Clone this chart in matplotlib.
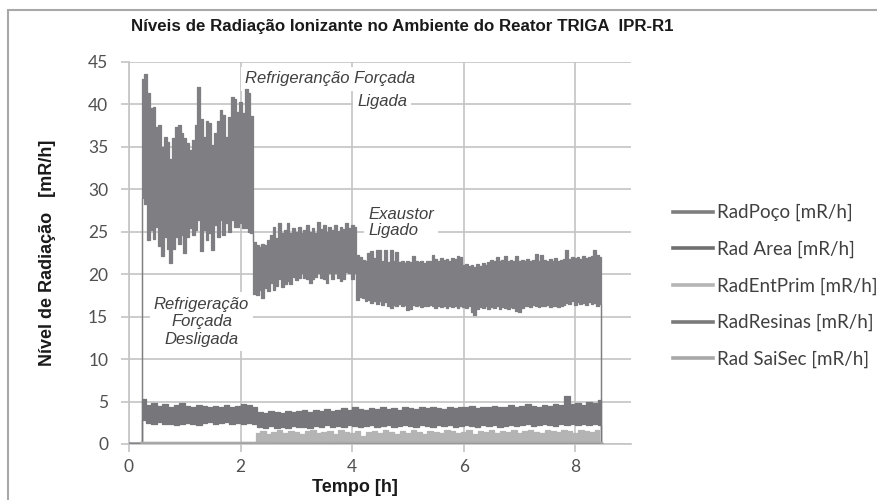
import matplotlib
matplotlib.use("Agg")
import matplotlib.pyplot as plt
import numpy as np
from matplotlib.lines import Line2D
from matplotlib.patches import Rectangle

plt.rcParams["font.family"] = ["Lato", "DejaVu Sans"]

# --- data (time in h, levels in mR/h) ---
series_names = ["RadPoço [mR/h]", "Rad Area [mR/h]", "RadEntPrim [mR/h]",
                "RadResinas [mR/h]", "Rad SaiSec [mR/h]"]
x_ticks = [0, 2, 4, 6, 8]
y_ticks = [0, 5, 10, 15, 20, 25, 30, 35, 40, 45]

# RadPoço: upper / lower envelope of the noisy trace, sampled every 0.05 h
poco_t = np.linspace(0.25, 8.45, 165)
poco_hi = [
    43.0, 43.6, 41.3, 39.6, 39.7, 37.4, 37.6, 35.0, 36.2, 35.6,
    33.6, 36.0, 37.4, 37.6, 36.6, 36.0, 35.4, 34.6, 35.8, 37.6,
    42.1, 38.3, 36.2, 38.0, 37.8, 35.2, 36.6, 38.0, 39.3, 38.8,
    36.2, 38.5, 40.9, 40.6, 39.1, 40.3, 39.0, 41.8, 41.3, 38.6,
    23.8, 23.5, 23.2, 23.6, 23.4, 24.0, 24.6, 25.6, 24.3, 26.0,
    24.8, 25.2, 26.0, 24.9, 25.4, 25.0, 25.6, 24.8, 25.2, 25.8,
    25.0, 25.4, 24.9, 26.2, 25.3, 25.8, 25.0, 25.6, 25.2, 25.8,
    25.1, 25.6, 25.3, 26.0, 25.4, 25.8, 25.6,
    22.3, 22.0, 21.7, 21.5, 22.5, 22.7, 21.9, 22.9,
    22.8, 21.5, 22.8, 21.4, 22.8, 21.5, 22.6, 21.4, 21.5, 21.3,
    21.6, 21.4, 22.1, 21.5, 21.4, 21.6, 21.3, 21.5, 21.6, 22.3,
    21.8, 21.6, 21.9, 21.7, 21.8, 21.6, 21.9, 21.8, 22.1, 22.0,
    21.1, 21.2, 21.0, 21.1, 20.9, 21.2, 21.0, 21.3, 21.1, 21.4,
    21.7, 21.6, 22.0, 21.6, 21.7, 22.2, 21.6, 21.7, 21.6, 22.1,
    21.6, 21.7, 21.5, 21.8, 21.6, 21.7, 22.4, 21.6, 22.3, 21.7,
    21.6, 21.8, 21.6, 21.9, 21.6, 21.7, 21.8, 22.9, 21.8, 22.0,
    21.9, 22.0, 21.8, 22.1, 21.9, 22.0, 22.1, 22.9, 22.3, 22.0,
]
poco_lo = [
    29.0, 28.3, 24.0, 25.2, 24.2, 25.6, 23.3, 22.1, 24.4, 23.0,
    21.3, 23.0, 24.4, 23.6, 24.6, 22.5, 24.4, 25.4, 24.6, 25.2,
    26.4, 22.7, 25.2, 24.0, 24.8, 22.9, 25.8, 24.4, 26.4, 24.6,
    26.0, 25.0, 26.4, 25.6, 25.6, 26.0, 25.4, 25.4, 25.0, 24.8,
    17.7, 17.6, 18.2, 17.2, 18.4, 18.0, 19.0, 18.2, 18.6, 19.4,
    18.5, 18.8, 19.2, 18.9, 19.7, 19.3, 19.5, 20.1, 19.6, 19.4,
    19.0, 19.4, 19.7, 20.1, 19.6, 19.4, 19.0, 20.1, 19.4, 20.1,
    19.6, 19.2, 19.4, 20.3, 20.1, 19.4, 20.1,
    17.0, 17.3, 17.2, 16.9, 17.0, 16.6, 16.9, 16.5,
    16.8, 16.4, 16.7, 16.3, 16.0, 16.4, 16.3, 16.5, 16.3, 16.4,
    15.8, 15.9, 16.4, 16.2, 16.4, 16.1, 16.3, 16.2, 16.4, 16.2,
    16.0, 16.3, 16.1, 16.2, 16.0, 16.2, 16.1, 16.3, 16.0, 16.2,
    16.1, 16.0, 16.2, 15.6, 15.2, 15.9, 16.1, 16.0, 16.2, 15.9,
    16.1, 16.0, 16.2, 15.9, 16.1, 16.0, 15.9, 16.1, 16.0, 15.7,
    15.6, 16.0, 16.2, 16.3, 16.1, 16.4, 16.2, 16.1, 16.3, 16.2,
    16.4, 16.1, 16.3, 16.2, 16.1, 16.3, 16.4, 16.6, 16.5, 16.8,
    16.4, 16.7, 16.5, 16.6, 16.4, 16.7, 16.5, 16.6, 16.3, 16.5,
]
# baseline before start-up and after shutdown
poco_pre_t, poco_pre_v = [0.0, 0.22], [0.1, 0.1]
poco_post_t, poco_post_v = [8.47, 8.48], [0.1, 0.1]

# Rad Area: envelope every 0.1 h
area_t = np.linspace(0.25, 8.45, 83)
area_hi = [
    5.3, 4.6, 4.8, 4.5, 4.7, 4.4, 4.6, 4.8, 4.5, 4.4,
    4.6, 4.5, 4.3, 4.5, 4.4, 4.6, 4.4, 4.5, 4.7, 4.6,
    4.4, 3.8, 3.7, 3.9, 3.8, 3.7, 3.9, 3.8, 3.9, 4.0,
    3.8, 4.0, 3.9, 4.1, 3.9, 4.0, 4.2, 4.0, 4.3, 4.1,
    4.0, 4.2, 4.1, 4.3, 4.1, 4.2, 4.0, 4.3, 4.2, 4.1,
    4.3, 4.2, 4.4, 4.2, 4.1, 4.3, 4.2, 4.4, 4.3, 4.5,
    4.2, 4.4, 4.3, 4.5, 4.4, 4.3, 4.6, 4.4, 4.5, 4.7,
    4.5, 4.4, 4.6, 4.5, 4.7, 4.6, 5.6, 4.7, 4.8, 4.6,
    4.9, 4.8, 5.2,
]
area_lo = [
    2.8, 2.5, 2.4, 2.6, 2.3, 2.4, 2.2, 2.3, 2.5, 2.3,
    2.2, 2.5, 2.6, 2.4, 2.5, 2.6, 2.4, 2.5, 2.4, 2.5,
    2.3, 2.0, 1.9, 2.1, 1.9, 2.0, 1.9, 2.1, 2.0, 2.0,
    1.9, 2.1, 2.0, 2.2, 2.0, 2.1, 2.0, 2.2, 2.1, 2.0,
    2.1, 2.2, 2.0, 2.1, 2.2, 2.0, 2.1, 2.2, 2.1, 2.0,
    2.2, 2.1, 2.0, 2.2, 2.1, 2.2, 2.0, 2.1, 2.2, 2.1,
    2.0, 2.2, 2.1, 2.2, 2.0, 2.1, 2.2, 2.1, 2.2, 2.3,
    2.1, 2.2, 2.3, 2.2, 2.1, 2.3, 2.2, 2.3, 2.2, 2.3,
    2.2, 2.3, 2.2,
]

# RadEntPrim: flat until forced cooling, then a band (every 0.1 h)
ent_pre_t, ent_pre_v = [0.22, 2.25], [0.12, 0.12]
ent_t = np.linspace(2.30, 8.40, 62)
ent_hi = [
    1.3, 1.5, 1.2, 1.4, 1.6, 1.3, 1.5, 1.4, 1.2, 1.5,
    1.6, 1.3, 1.4, 1.5, 1.2, 1.6, 1.4, 1.3, 1.5, 1.0,
    1.4, 1.5, 1.3, 1.6, 1.4, 1.2, 1.5, 1.3, 1.6, 1.4,
    1.2, 1.5, 1.4, 1.3, 1.6, 1.5, 1.3, 1.4, 1.6, 1.2,
    1.5, 1.4, 1.6, 1.3, 1.5, 1.4, 1.7, 1.3, 1.5, 1.6,
    1.4, 1.3, 1.6, 1.5, 1.4, 1.7, 1.5, 1.3, 1.6, 1.5,
    1.4, 1.6,
]
ent_lo = [
    0.3, 0.2, 0.3, 0.3, 0.2, 0.3, 0.2, 0.3, 0.3, 0.2,
    0.3, 0.2, 0.2, 0.3, 0.3, 0.2, 0.3, 0.2, 0.3, 0.3,
    0.2, 0.3, 0.3, 0.2, 0.3, 0.2, 0.3, 0.3, 0.2, 0.3,
    0.2, 0.3, 0.3, 0.2, 0.3, 0.2, 0.3, 0.2, 0.3, 0.3,
    0.2, 0.3, 0.2, 0.3, 0.3, 0.2, 0.3, 0.2, 0.3, 0.2,
    0.3, 0.3, 0.2, 0.3, 0.2, 0.3, 0.3, 0.2, 0.3, 0.2,
    0.3, 0.2,
]
ent_post_t, ent_post_v = [8.46, 8.48], [0.1, 0.1]

# RadResinas and Rad SaiSec stay near zero
res_t = [0.0, 0.22, 2.25, 4.10, 8.45, 8.48]
res_v = [0.05, 0.05, 0.06, 0.06, 0.06, 0.05]
sai_t = [0.22, 2.25, 4.10, 8.45, 8.48]
sai_v = [0.15, 0.15, 0.18, 0.18, 0.15]

colors = ["#7f7f83", "#77777b", "#b4b4b4", "#86868a", "#ababab"]
legend_colors = ["#7f7f7f", "#6f6f6f", "#b5b5b5", "#7a7a7a", "#a8a8a8"]

fig = plt.figure(figsize=(8.77, 5.0), dpi=100)
ax = fig.add_axes([129 / 877, 56 / 500, 502 / 877, 382 / 500])


def draw_band(t, lo, hi, color, z):
    ax.fill_between(t, lo, hi, step="mid", facecolor=color, edgecolor=color, lw=0.6, zorder=z)
    ax.plot(t, hi, drawstyle="steps-mid", color=color, lw=0.9, zorder=z)
    ax.plot(t, lo, drawstyle="steps-mid", color=color, lw=0.9, zorder=z)


draw_band(np.concatenate([poco_pre_t, poco_t, poco_post_t]),
          np.concatenate([poco_pre_v, poco_lo, poco_post_v]),
          np.concatenate([poco_pre_v, poco_hi, poco_post_v]), colors[0], 2)
draw_band(np.concatenate([poco_pre_t, area_t, poco_post_t]),
          np.concatenate([poco_pre_v, area_lo, poco_post_v]),
          np.concatenate([poco_pre_v, area_hi, poco_post_v]), colors[1], 3)
draw_band(np.concatenate([ent_pre_t, ent_t, ent_post_t]),
          np.concatenate([ent_pre_v, ent_lo, ent_post_v]),
          np.concatenate([ent_pre_v, ent_hi, ent_post_v]), colors[2], 4)
ax.plot(res_t, res_v, color=colors[3], lw=1.5, zorder=5)
ax.plot(sai_t, sai_v, color=colors[4], lw=1.5, zorder=6)

ax.set_xlim(0, 9)
ax.set_ylim(0, 45)
ax.set_xticks(x_ticks)
ax.set_yticks(y_ticks)
ax.set_axisbelow(True)
ax.grid(True, color="#c4c4c4", lw=1.2)
for side in ["top", "right"]:
    ax.spines[side].set_visible(False)
for side in ["left", "bottom"]:
    ax.spines[side].set_color("#c4c4c4")
    ax.spines[side].set_linewidth(1.2)
ax.tick_params(axis="both", direction="out", length=6, width=1.2, color="#c4c4c4",
               labelcolor="#505050", labelsize=12.5)
ax.tick_params(axis="y", pad=9)
ax.tick_params(axis="x", pad=5)

label_font = dict(family=["Liberation Sans", "DejaVu Sans"], fontweight="bold", fontsize=13,
                  color="#1a1a1a")
ax.set_xlabel("Tempo [h]", **label_font)
ax.xaxis.label.set_va("center")
ax.xaxis.set_label_coords(0.45, -0.115)
ax.set_ylabel("Nível de Radiação   [mR/h]", **label_font)
ax.yaxis.label.set_va("center")
ax.yaxis.set_label_coords(-0.163, 0.5)

fig.text(402 / 877, 1 - 27 / 500,
         "Níveis de Radiação Ionizante no Ambiente do Reator TRIGA  IPR-R1",
         ha="center", va="center", fontsize=12.2, fontweight="bold", color="#1a1a1a",
         family=["Liberation Sans Narrow", "Liberation Sans", "DejaVu Sans"])

note = dict(family=["Liberation Sans", "DejaVu Sans"], style="italic", fontsize=12,
            color="#404040", zorder=1,
            bbox=dict(boxstyle="square,pad=0.25", fc="white", ec="none"))
ax.text(5.13, 43.0, "Refrigeranção Forçada", ha="right", va="center", **note)
ax.text(4.99, 40.4, "Ligada", ha="right", va="center", **note)
ax.text(4.29, 26.1, "Exaustor\nLigado", ha="left", va="center", linespacing=1.15, **note)
ax.text(1.30, 14.4, "Refrigeração\nForçada\nDesligada", ha="center", va="center",
        multialignment="center", linespacing=1.22, **note)

handles = [Line2D([], [], color=c, lw=2.6) for c in legend_colors]
leg = ax.legend(handles, series_names, loc="center left",
                bbox_to_anchor=(673 / 877, 1 - 286 / 500), bbox_transform=fig.transFigure,
                frameon=False, fontsize=13.5, handlelength=2.15, handletextpad=0.2,
                labelspacing=1.03, borderpad=0, borderaxespad=0)
for txt in leg.get_texts():
    txt.set_color("#404040")

# outer chart frame (cropped on the right and bottom)
fig.add_artist(Rectangle((8 / 877, -0.5), 2, 0.98 + 0.5, transform=fig.transFigure,
                         fill=False, edgecolor="#a8a8a8", lw=1.5))

fig.savefig("out.png", dpi=100)
